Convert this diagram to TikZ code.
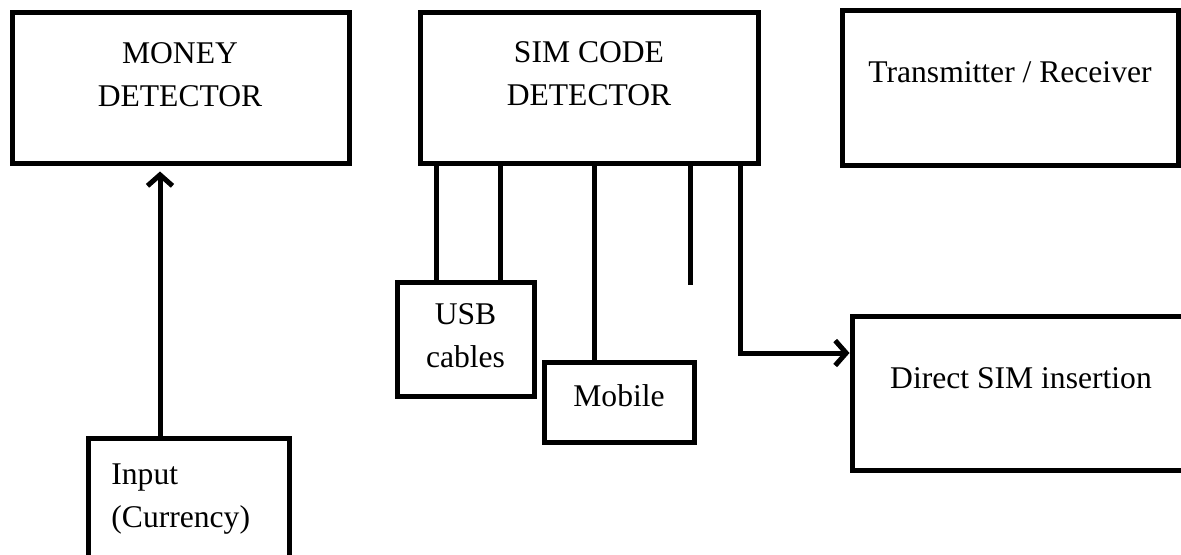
\documentclass[tikz,border=0pt]{standalone}
\usepackage{fontspec}
\setmainfont{Liberation Serif}
\usetikzlibrary{arrows.meta}

\begin{document}
\begin{tikzpicture}[x=0.5pt,y=-0.5pt,
		box/.style={draw,line width=2.5pt,inner sep=0pt},
		lbl/.style={font=\fontsize{15.8}{21.5}\selectfont,align=center,inner sep=0pt,anchor=base},
		wire/.style={line width=2.5pt},
		arr/.style={line width=2.5pt,-{Straight Barb[length=5.5pt,width=12.5pt,line width=2.5pt]}}]
	\useasboundingbox (0,0) rectangle (1181,554);
	\node (MD) [box,minimum width=168.5pt,minimum height=75.5pt] at (180.5,87.5) {};
	\node (SD) [box,minimum width=169pt,minimum height=75.5pt] at (589,87.5) {};
	\node (TR) [box,minimum width=168pt,minimum height=77.5pt] at (1010,87.5) {};
	\node (USB) [box,minimum width=68.5pt,minimum height=57pt] at (465.5,339) {};
	\node (MOB) [box,minimum width=75pt,minimum height=40pt] at (619,402) {};
	\node (DS) [box,minimum width=174pt,minimum height=77pt] at (1026,393) {};
	\node (IN) [box,minimum width=100.5pt,minimum height=81pt] at (188.5,519) {};
	\node (MDt) [lbl] at (180,106) {MONEY\\DETECTOR};
	\node (SDt) [lbl] at (589,105) {SIM CODE\\DETECTOR};
	\node (TRt) [lbl] at (1010,82) {Transmitter / Receiver};
	\node (USBt) [lbl] at (465.5,367) {USB\\cables};
	\node (MOBt) [lbl] at (619,406) {Mobile};
	\node (DSt) [lbl] at (1021,388) {Direct SIM insertion};
	\node (INt) [lbl,align=left,anchor=base west] at (111,527) {Input\\(Currency)};
	\coordinate (free) at (690,285);
	\draw [wire] (SD.south -| 436,0) -- (USB.north -| 436,0);
	\draw [wire] (SD.south -| 500,0) -- (USB.north -| 500,0);
	\draw [wire] (SD.south -| 594,0) -- (MOB.north -| 594,0);
	\draw [wire] (SD.south -| free) -- (free);
	\draw [arr] (SD.south -| 740,0) |- ([yshift=20pt]DS.west);
	\draw [arr,shorten >=3pt] (IN.north -| 160,0) -- (MD.south -| 160,0);
\end{tikzpicture}
\end{document}
